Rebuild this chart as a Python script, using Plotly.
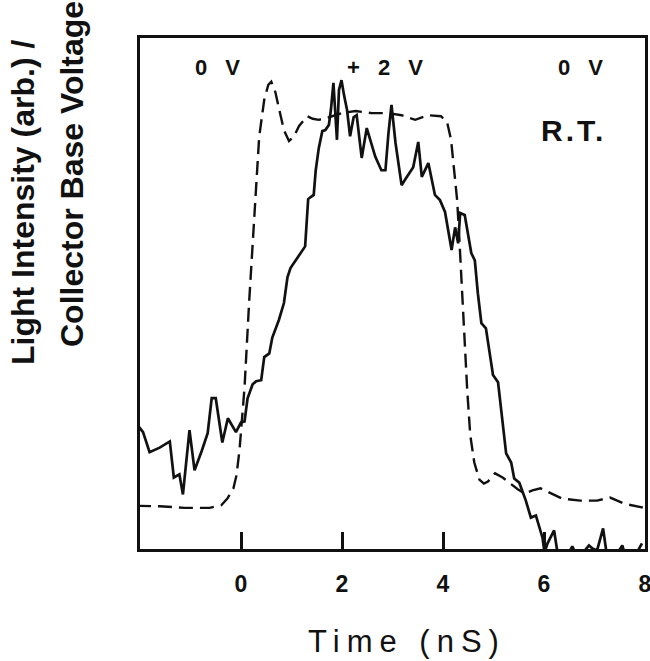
import plotly.graph_objects as go

# ---------------- data ----------------
# Collector-base voltage (dashed), arbitrary units
time_voltage = [-2.06, -1.61, -1.12, -0.62, -0.39, -0.27, -0.15, -0.09, -0.03, 0.03,
                0.07, 0.16, 0.26, 0.36, 0.46, 0.54, 0.60, 0.68, 0.75, 0.85,
                0.95, 1.05, 1.15, 1.31, 1.42, 1.54, 1.74, 1.99, 2.27, 2.59,
                2.92, 3.18, 3.45, 3.71, 3.96, 4.08, 4.16, 4.22, 4.28, 4.32,
                4.36, 4.42, 4.48, 4.54, 4.62, 4.72, 4.81, 4.89, 5.03, 5.18,
                5.34, 5.48, 5.62, 5.77, 5.93, 6.13, 6.36, 6.72, 7.05, 7.31,
                7.59, 7.94, 8.00]
voltage = [8.7, 8.6, 8.3, 8.3, 8.8, 10.1, 12.1, 14.6, 19.5, 26.7,
           31.7, 48.1, 64.2, 80.4, 87.6, 90.5, 91.1, 89.1, 86.0, 81.7,
           79.6, 80.5, 82.5, 84.4, 83.9, 83.7, 84.2, 85.0, 85.4, 85.0,
           85.0, 84.6, 83.7, 84.6, 84.4, 83.3, 79.8, 74.3, 68.1, 61.3,
           53.5, 42.8, 31.1, 22.4, 17.1, 13.8, 13.0, 13.4, 15.0, 14.2,
           13.0, 11.9, 11.1, 11.7, 12.1, 11.1, 10.1, 9.7, 9.7, 10.3,
           9.1, 8.4, 8.2]

# Light intensity (solid), arbitrary units
time_light = [-2.04, -1.94, -1.81, -1.61, -1.41, -1.33, -1.22, -1.15, -1.02, -0.92,
              -0.78, -0.66, -0.58, -0.50, -0.37, -0.26, -0.10, 0.00, 0.07, 0.13,
              0.23, 0.30, 0.40, 0.46, 0.56, 0.62, 0.75, 0.85, 0.92, 0.98,
              1.27, 1.33, 1.38, 1.44, 1.48, 1.54, 1.61, 1.67, 1.74, 1.78,
              1.83, 1.87, 1.90, 1.94, 1.99, 2.04, 2.10, 2.16, 2.23, 2.29,
              2.39, 2.49, 2.66, 2.78, 2.86, 2.92, 2.98, 3.06, 3.18, 3.27,
              3.41, 3.51, 3.58, 3.71, 3.84, 3.94, 4.04, 4.17, 4.24, 4.30,
              4.34, 4.43, 4.56, 4.63, 4.69, 4.76, 4.85, 4.99, 5.09, 5.25,
              5.35, 5.41, 5.51, 5.64, 5.74, 5.84, 5.97, 6.01, 6.07, 6.20,
              6.27, 6.36, 6.46, 6.56, 6.63, 6.76, 6.89, 6.96, 7.05, 7.17,
              7.24, 7.35, 7.45, 7.55, 7.61, 7.74, 7.84, 7.94]
light = [24.3, 23.0, 19.1, 20.0, 21.2, 14.2, 14.8, 10.9, 23.4, 15.6,
         19.3, 22.8, 29.6, 29.6, 21.0, 25.7, 23.0, 24.9, 25.1, 29.6,
         32.3, 32.9, 33.1, 37.6, 38.3, 41.4, 44.8, 48.1, 53.1, 54.9,
         59.1, 68.3, 68.7, 69.1, 73.9, 78.2, 81.5, 81.7, 82.7, 85.6,
         90.9, 83.7, 79.8, 89.5, 91.4, 88.5, 85.6, 80.5, 84.2, 84.6,
         76.3, 82.1, 76.5, 73.9, 73.9, 81.1, 86.6, 79.2, 71.0, 72.4,
         74.5, 79.4, 72.6, 75.3, 69.1, 68.1, 65.8, 58.4, 62.8, 59.7,
         65.6, 65.2, 57.8, 56.4, 50.0, 44.2, 43.2, 34.1, 32.7, 18.9,
         17.1, 14.0, 13.2, 9.7, 6.4, 6.8, 2.5, -0.4, 1.4, 3.9,
         -0.6, -1.0, -1.0, 0.8, -0.6, -0.6, 1.0, 0.4, 0.0, 4.3,
         -0.6, -0.6, -0.6, 1.0, -1.0, -0.6, -0.4, 1.4]

x_tick_vals = [0, 2, 4, 6, 8]
x_tick_text = ["0", "2", "4", "6", "8"]
bias_labels = ["0 V", "+ 2 V", "0 V"]
condition_label = "R.T."
x_title = "Time (nS)"
y_title_lines = ["Light Intensity (arb.) /", "Collector Base Voltage"]

# ---------------- figure ----------------
W, H = 650, 661
L, R, T, B = 140, 5, 38, 112
FONT = "Liberation Sans, Arial, Helvetica, sans-serif"


def px_x(p):
    return (p - L) / (W - L - R)


def px_y(p):
    return (H - B - p) / (H - T - B)


fig = go.Figure()
fig.add_trace(go.Scatter(
    x=time_voltage, y=voltage, mode="lines",
    line=dict(color="#111111", width=2.4, dash="14px,7px"),
    hoverinfo="skip", showlegend=False))
fig.add_trace(go.Scatter(
    x=time_light, y=light, mode="lines",
    line=dict(color="#111111", width=2.7),
    hoverinfo="skip", showlegend=False))

annotations = []
bias_pos = [(220, 67), (388, 67), (583, 67)]
for lab, (ax_, ay_) in zip(bias_labels, bias_pos):
    annotations.append(dict(
        x=px_x(ax_), y=px_y(ay_), xref="paper", yref="paper",
        text='<span style="letter-spacing:6px">' + lab + "</span>",
        showarrow=False, xanchor="center", yanchor="middle",
        font=dict(family=FONT, size=22, color="#111111", weight="bold")))
annotations.append(dict(
    x=px_x(573), y=px_y(130), xref="paper", yref="paper",
    text='<span style="letter-spacing:3px">' + condition_label + "</span>",
    showarrow=False, xanchor="center", yanchor="middle",
    font=dict(family=FONT, size=30, color="#111111", weight="bold")))
annotations.append(dict(
    x=px_x(407), y=px_y(641), xref="paper", yref="paper",
    text='<span style="letter-spacing:7px">' + x_title + "</span>",
    showarrow=False, xanchor="center", yanchor="middle",
    font=dict(family=FONT, size=31, color="#111111")))
ytitle_pos = [(23, 203), (72, 174)]
for lab, (ax_, ay_) in zip(y_title_lines, ytitle_pos):
    annotations.append(dict(
        x=px_x(ax_), y=px_y(ay_), xref="paper", yref="paper",
        text=lab, textangle=-90,
        showarrow=False, xanchor="center", yanchor="middle",
        font=dict(family=FONT, size=32, color="#111111", weight="bold")))

fig.update_layout(
    width=W, height=H,
    margin=dict(l=L, r=R, t=T, b=B, pad=0, autoexpand=False),
    paper_bgcolor="white", plot_bgcolor="white",
    annotations=annotations,
    xaxis=dict(
        range=[-2.0, 8.0], showgrid=False, zeroline=False, automargin=False,
        showline=True, linecolor="#111111", linewidth=3, mirror=True,
        ticks="inside", ticklen=17, tickwidth=3, tickcolor="#111111",
        tickvals=x_tick_vals, ticktext=x_tick_text,
        ticklabelstandoff=12, ticklabeloverflow="allow",
        tickfont=dict(family=FONT, size=23, color="#111111", weight="bold")),
    yaxis=dict(
        range=[0.3, 99.6], showgrid=False, zeroline=False, automargin=False,
        showline=True, linecolor="#111111", linewidth=3, mirror=True,
        showticklabels=False, ticks=""),
)

# remove the default page margin so the figure sits at the window's corner
fig.write_html("out.html",
               config={"displayModeBar": False},
               post_script="document.body.style.margin='0px';"
                           "document.body.style.padding='0px';")
